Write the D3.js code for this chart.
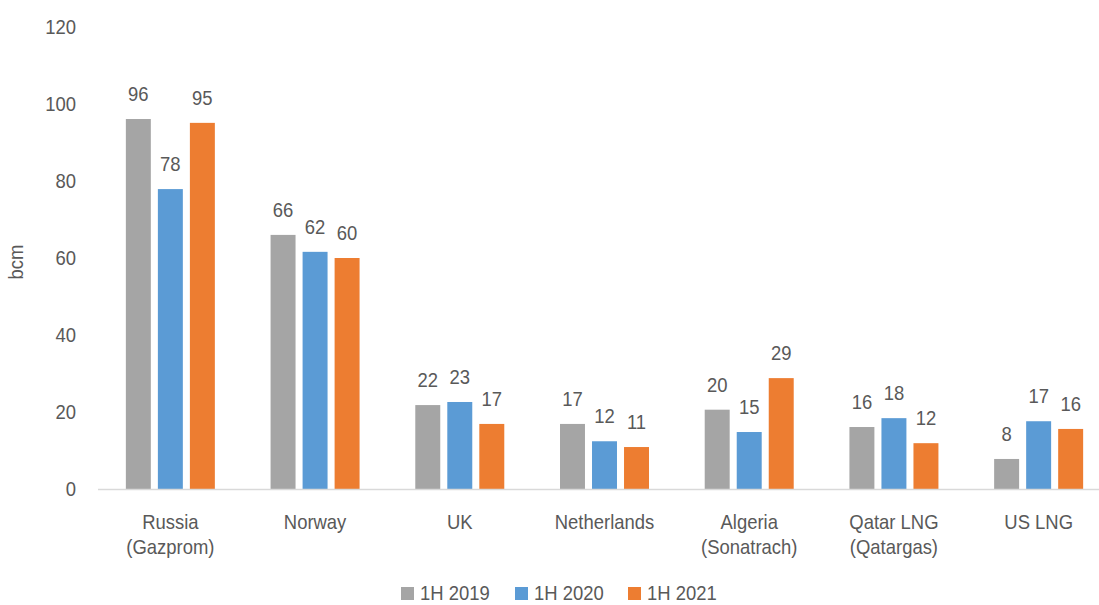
<!DOCTYPE html>
<html>
<head>
<meta charset="utf-8">
<script src="https://cdn.jsdelivr.net/npm/d3@7/dist/d3.min.js"></script>
<style>
  body { margin: 0; background: #fff; }
  text { font-family: "Liberation Sans", Arial, sans-serif; fill: #595959; }
</style>
</head>
<body>
<svg id="chart" width="1099" height="605"></svg>
<script>
// Chart data
var categories = [["Russia", "(Gazprom)"], ["Norway"], ["UK"], ["Netherlands"], ["Algeria", "(Sonatrach)"], ["Qatar LNG", "(Qatargas)"], ["US LNG"]];
var seriesNames = ["1H 2019", "1H 2020", "1H 2021"];
var values2019 = [96.1, 66, 21.8, 16.9, 20.6, 16.1, 7.8];
var values2020 = [77.9, 61.6, 22.6, 12.4, 14.8, 18.4, 17.6];
var values2021 = [95.1, 60, 16.9, 10.9, 28.8, 11.9, 15.6];
var labels2019 = [96, 66, 22, 17, 20, 16, 8];
var labels2020 = [78, 62, 23, 12, 15, 18, 17];
var labels2021 = [95, 60, 17, 11, 29, 12, 16];
var yTicks = [0, 20, 40, 60, 80, 100, 120];

var colors = ["#a5a5a5", "#5b9bd5", "#ed7d31"];
var allValues = [values2019, values2020, values2021];
var allLabels = [labels2019, labels2020, labels2021];

var FONT = "20.5px";
var SQUEEZE = 0.9;  // the original font is a bit narrower than Liberation Sans

var svg = d3.select("#chart");

// put a text at (x, y) and squeeze it horizontally
function place(x, y) {
    return "translate(" + x + "," + y + ") scale(" + SQUEEZE + ",1)";
}

// Scales
var x = d3.scaleBand()
    .domain(d3.range(categories.length))
    .range([98, 1111]);
var y = d3.scaleLinear()
    .domain([0, 120])
    .range([489, 27]);

// Position of bars inside a group
var inner = d3.scaleBand()
    .domain(d3.range(seriesNames.length))
    .range([0, 89])
    .paddingInner(0.22);
var groupOffset = (x.bandwidth() - 89) / 2;

// Y axis labels (no line, no ticks)
var gY = svg.append("g")
    .attr("transform", "translate(76,0)")
    .call(d3.axisLeft(y).tickValues(yTicks).tickSize(0).tickPadding(0));
gY.select(".domain").remove();
gY.selectAll("text")
    .attr("font-size", FONT)
    .attr("fill", "#595959")
    .attr("transform", "scale(" + SQUEEZE + ",1)")
    .style("font-family", null);

svg.append("text")
    .attr("transform", "translate(23,262) rotate(-90) scale(" + SQUEEZE + ",1)")
    .attr("text-anchor", "middle")
    .attr("font-size", FONT)
    .text("bcm");

// Bars + data labels
allValues.forEach(function(vals, s) {
    svg.append("g").selectAll("rect")
        .data(vals)
        .enter()
        .append("rect")
        .attr("x", (d, i) => x(i) + groupOffset + inner(s))
        .attr("y", d => y(d))
        .attr("width", inner.bandwidth())
        .attr("height", d => y(0) - y(d))
        .attr("fill", colors[s]);

    svg.append("g").selectAll("text")
        .data(vals)
        .enter()
        .append("text")
        .attr("transform", (d, i) => place(x(i) + groupOffset + inner(s) + inner.bandwidth() / 2, y(d) - 18))
        .attr("text-anchor", "middle")
        .attr("font-size", FONT)
        .text((d, i) => allLabels[s][i]);
});

// X axis line
svg.append("line")
    .attr("x1", 98).attr("x2", 1111)
    .attr("y1", y(0) + 0.5).attr("y2", y(0) + 0.5)
    .attr("stroke", "#d9d9d9")
    .attr("stroke-width", 1.5);

// Category labels
var catLabels = svg.append("g").selectAll("text")
    .data(categories)
    .enter()
    .append("text")
    .attr("transform", (d, i) => place(x(i) + x.bandwidth() / 2, 529))
    .attr("text-anchor", "middle")
    .attr("font-size", FONT);
catLabels.selectAll("tspan")
    .data(d => d)
    .enter()
    .append("tspan")
    .attr("x", 0)
    .attr("dy", (d, i) => i === 0 ? 0 : 25)
    .text(d => d);

// Legend
var legendX = [401, 515, 628];
var legend = svg.append("g");
seriesNames.forEach(function(name, s) {
    legend.append("rect")
        .attr("x", legendX[s]).attr("y", 587)
        .attr("width", 13).attr("height", 13)
        .attr("fill", colors[s]);
    legend.append("text")
        .attr("transform", place(legendX[s] + 19, 600))
        .attr("font-size", FONT)
        .text(name);
});
</script>
</body>
</html>
